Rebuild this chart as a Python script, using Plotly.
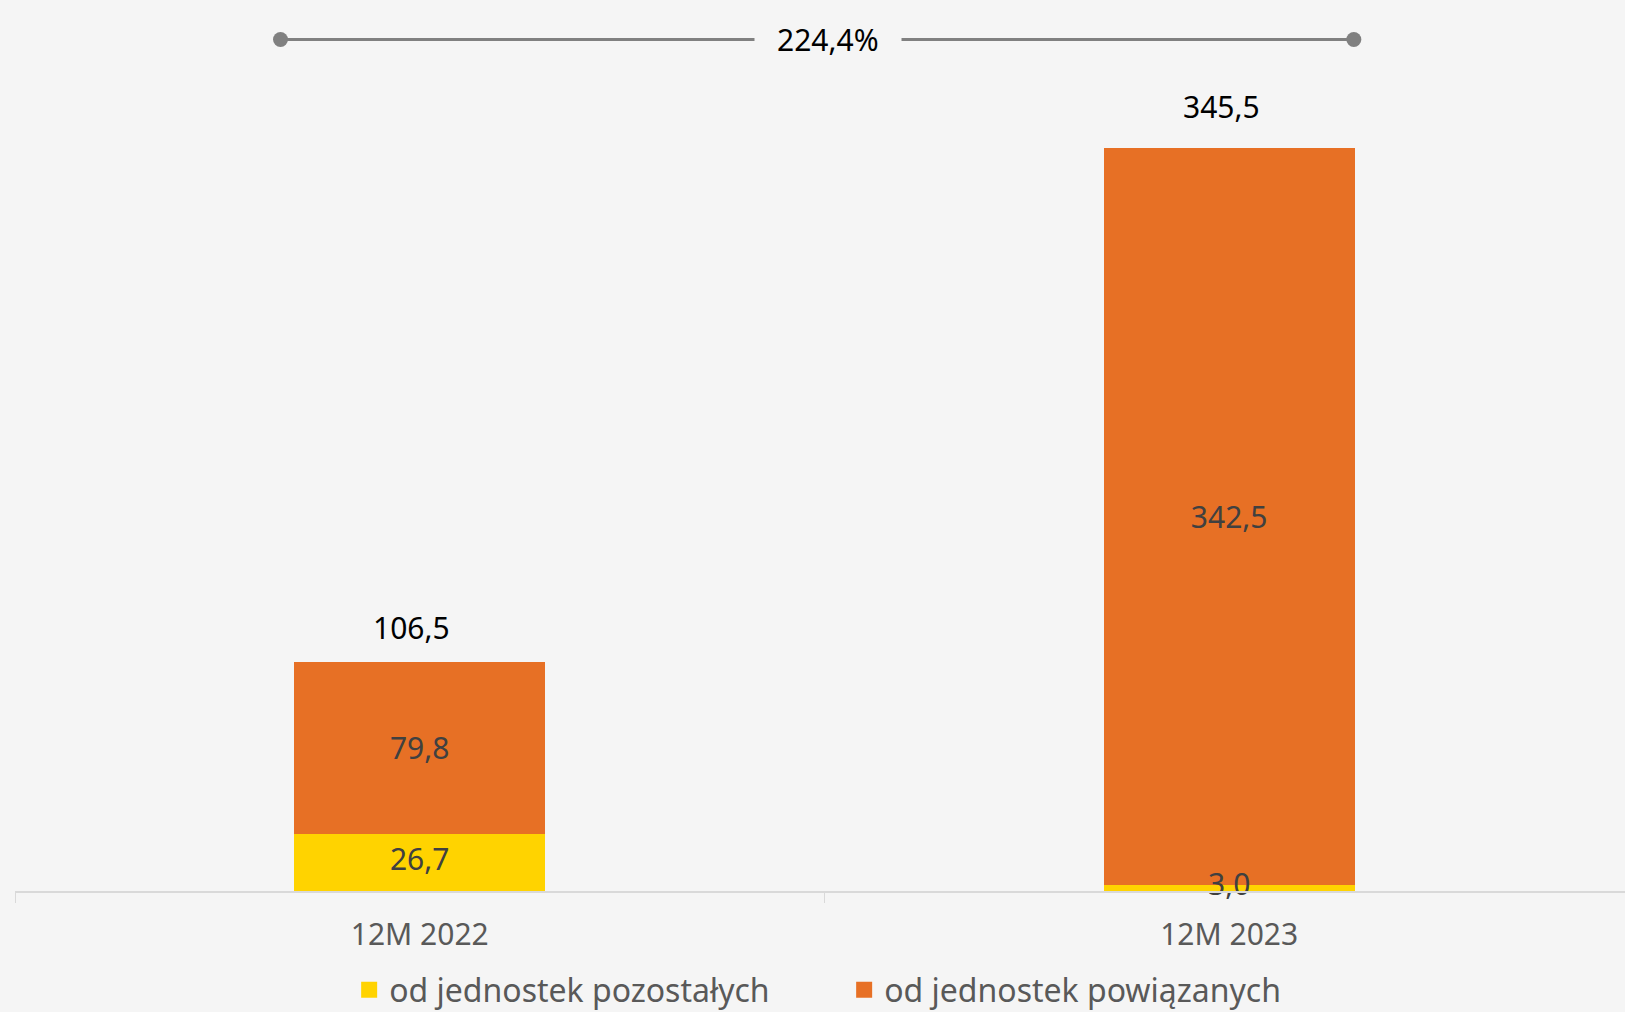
import plotly.graph_objects as go

# data
categories = ["12M 2022", "12M 2023"]
pozostale = [26.7, 3.0]
powiazane = [79.8, 342.5]
totals = [106.5, 345.5]
change_label = "224,4%"
series_names = ["od jednostek pozostałych", "od jednostek powiązanych"]
colors = ["#FFD300", "#E77025"]


def pl(v):
    return f"{v:.1f}".replace(".", ",")


FONT = "Noto Sans"
BG = "#F5F5F5"
LABEL = dict(color="#404040", size=30, family=FONT)

fig = go.Figure()
fig.add_trace(go.Bar(
    x=categories, y=pozostale, name=series_names[0], showlegend=False,
    marker=dict(color=colors[0], line=dict(width=0)),
))
fig.add_trace(go.Bar(
    x=categories, y=powiazane, name=series_names[1], showlegend=False,
    marker=dict(color=colors[1], line=dict(width=0)),
    text=[pl(v) for v in powiazane], textposition="inside",
    insidetextanchor="middle", textfont=LABEL, constraintext="none",
))
# labels of the bottom segment drawn on top (the 3,0 one overlaps the orange bar)
fig.add_trace(go.Scatter(
    x=categories, y=[v / 2 for v in pozostale], mode="text",
    text=[pl(v) for v in pozostale], textfont=LABEL, textposition="middle center",
    showlegend=False, hoverinfo="skip", cliponaxis=False,
))

# legend entries with bigger square swatches
for name, col in zip(series_names, colors):
    fig.add_trace(go.Scatter(
        x=[None], y=[None], mode="markers", name=name,
        marker=dict(symbol="square", size=17, color=col),
    ))

# totals above bars
for c, t, s in zip(categories, totals, [12, 19]):
    fig.add_annotation(x=c, y=t, text=pl(t), showarrow=False, yanchor="bottom",
                       yshift=s, xshift=-8, font=dict(size=30, color="#000000", family=FONT))

# change bracket across the top
bracket_y = 396
fig.add_trace(go.Scatter(
    x=[-0.172, 1.154], y=[bracket_y, bracket_y], mode="lines+markers", xaxis="x2",
    line=dict(color="#808080", width=3), marker=dict(size=15, color="#808080"),
    showlegend=False, hoverinfo="skip", cliponaxis=False,
))
fig.add_annotation(x=0.504, y=bracket_y, xref="x2", text=change_label, showarrow=False,
                   bgcolor=BG, borderpad=22, font=dict(size=30, color="#000000", family=FONT))

fig.update_layout(
    barmode="stack",
    bargap=0.69,
    width=1625, height=1012,
    margin=dict(l=15, r=0, t=0, b=121, autoexpand=False),
    paper_bgcolor=BG, plot_bgcolor=BG,
    font=dict(family=FONT, size=30, color="#595959"),
    hovermode=False,
    legend=dict(orientation="h", x=0.515, xanchor="center", y=-0.111, yanchor="middle",
                font=dict(size=32, color="#595959", family=FONT),
                entrywidth=450, entrywidthmode="pixels",
                traceorder="normal", bgcolor="rgba(0,0,0,0)"),
    xaxis2=dict(overlaying="x", range=[-0.5, 1.489], visible=False, anchor="y"),
)
fig.layout.xaxis.update(
    type="category", range=[-0.5, 1.489], showline=True, linecolor="#D9D9D9", linewidth=2,
    ticks="outside", tickson="boundaries", ticklen=10, tickcolor="#D9D9D9",
    ticklabelstandoff=16, tickfont=dict(size=30, color="#595959", family=FONT),
    showgrid=False, zeroline=False,
)
fig.update_yaxes(range=[0, 414.4], visible=False, showgrid=False, zeroline=False)

fig.write_html("out.html", config={"displayModeBar": False},
               post_script="document.body.style.margin='0';")
